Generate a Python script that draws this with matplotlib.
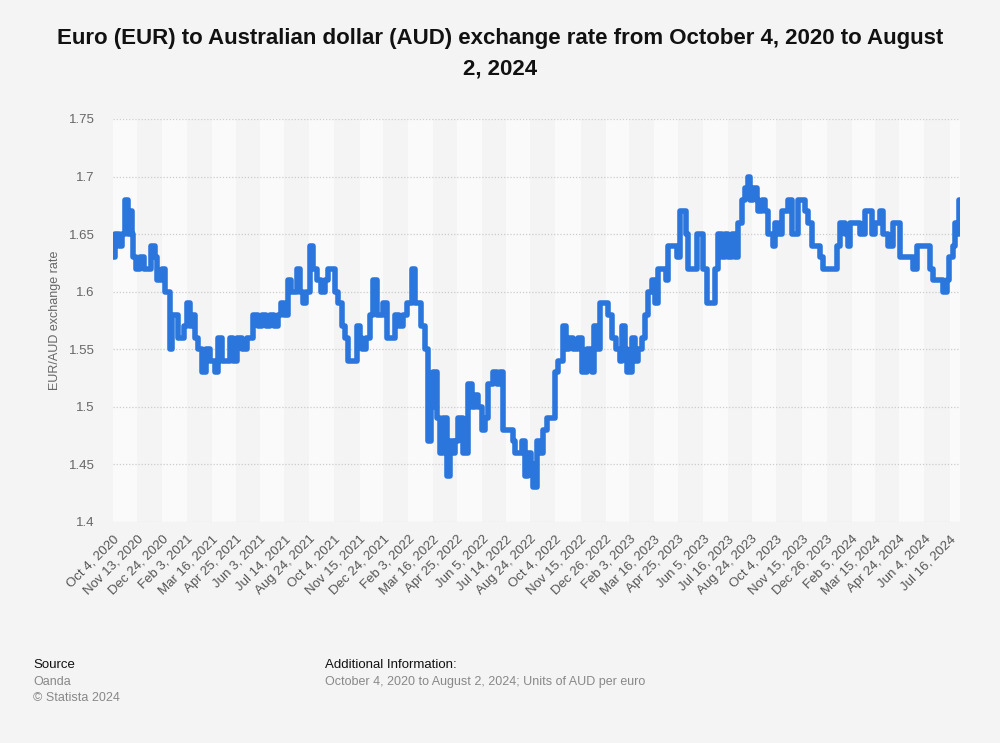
import pandas as pd
import matplotlib.pyplot as plt

# EUR/AUD exchange rate (days since Oct 4, 2020)
start = pd.Timestamp("2020-10-04")
end = pd.Timestamp("2024-08-02")

days = [0, 3, 10, 15, 20, 25, 28, 31, 33, 38, 45, 51, 58, 63, 69, 73, 78, 81, 86, 91,
        94, 97, 102, 107, 114, 117, 122, 127, 132, 135, 140, 147, 153, 160, 168, 173, 180, 187, 193, 198,
        205, 213, 221, 228, 231, 239, 246, 253, 259, 266, 272, 277, 282, 289, 294, 299, 304, 309, 314, 319,
        325, 330, 337, 343, 350, 355, 363, 366, 371, 378, 383, 388, 396, 403, 408, 411, 418, 424, 429, 436,
        442, 446, 452, 460, 465, 472, 479, 485, 490, 493, 498, 503, 508, 515, 520, 525, 528, 535, 540, 545,
        551, 556, 561, 564, 569, 574, 578, 586, 593, 597, 602, 609, 614, 619, 627, 634, 639, 644, 650, 655,
        660, 663, 672, 675, 680, 685, 690, 693, 700, 705, 710, 716, 725, 730, 734, 743, 748, 753, 759, 767,
        774, 782, 791, 794, 799, 804, 812, 817, 824, 830, 837, 840, 845, 848, 857, 862, 867, 873, 878, 883,
        890, 895, 900, 908, 913, 916, 923, 928, 931, 936, 941, 946, 949, 957, 964, 969, 974, 980, 989, 994,
        999, 1005, 1010, 1015, 1022, 1027, 1032, 1038, 1043, 1048, 1051, 1056, 1063, 1065, 1071, 1076, 1081, 1089, 1093, 1098,
        1104, 1109, 1114, 1121, 1126, 1131, 1137, 1142, 1147, 1154, 1162, 1167, 1172, 1188, 1195, 1200, 1208, 1213, 1216, 1228,
        1233, 1241, 1249, 1253, 1258, 1266, 1271, 1279, 1287, 1294, 1299, 1315, 1320, 1327, 1344, 1348, 1353, 1365, 1370, 1377,
        1380, 1386, 1390, 1393, 1396, 1398]

rate = [1.63, 1.65, 1.64, 1.65, 1.68, 1.65, 1.67, 1.65, 1.63, 1.62, 1.63, 1.62, 1.62, 1.64, 1.63, 1.61, 1.61, 1.62, 1.60, 1.60,
        1.55, 1.58, 1.58, 1.56, 1.56, 1.57, 1.59, 1.57, 1.58, 1.56, 1.55, 1.53, 1.55, 1.54, 1.53, 1.56, 1.54, 1.54, 1.56, 1.54,
        1.56, 1.55, 1.56, 1.56, 1.58, 1.57, 1.58, 1.57, 1.58, 1.57, 1.58, 1.59, 1.58, 1.61, 1.60, 1.60, 1.62, 1.60, 1.59, 1.60,
        1.64, 1.62, 1.61, 1.60, 1.61, 1.62, 1.62, 1.60, 1.59, 1.57, 1.56, 1.54, 1.54, 1.57, 1.56, 1.55, 1.56, 1.58, 1.61, 1.58,
        1.58, 1.59, 1.56, 1.56, 1.58, 1.57, 1.58, 1.59, 1.59, 1.62, 1.59, 1.59, 1.57, 1.55, 1.47, 1.50, 1.53, 1.49, 1.46, 1.49,
        1.44, 1.47, 1.46, 1.47, 1.49, 1.49, 1.46, 1.52, 1.50, 1.51, 1.50, 1.48, 1.49, 1.52, 1.53, 1.52, 1.53, 1.48, 1.48, 1.48,
        1.47, 1.46, 1.46, 1.47, 1.44, 1.46, 1.45, 1.43, 1.47, 1.46, 1.48, 1.49, 1.49, 1.53, 1.54, 1.57, 1.55, 1.56, 1.55, 1.56,
        1.53, 1.55, 1.53, 1.57, 1.55, 1.59, 1.59, 1.58, 1.56, 1.55, 1.54, 1.57, 1.55, 1.53, 1.56, 1.54, 1.55, 1.56, 1.58, 1.60,
        1.61, 1.59, 1.62, 1.62, 1.61, 1.64, 1.64, 1.64, 1.63, 1.67, 1.67, 1.65, 1.62, 1.62, 1.65, 1.65, 1.62, 1.59, 1.59, 1.62,
        1.65, 1.63, 1.65, 1.63, 1.65, 1.63, 1.66, 1.68, 1.69, 1.70, 1.68, 1.69, 1.68, 1.67, 1.68, 1.67, 1.65, 1.64, 1.66, 1.65,
        1.67, 1.67, 1.68, 1.65, 1.65, 1.68, 1.68, 1.67, 1.66, 1.64, 1.64, 1.63, 1.62, 1.62, 1.64, 1.66, 1.65, 1.64, 1.66, 1.66,
        1.65, 1.67, 1.67, 1.65, 1.66, 1.67, 1.65, 1.64, 1.66, 1.66, 1.63, 1.63, 1.62, 1.64, 1.64, 1.62, 1.61, 1.61, 1.60, 1.61,
        1.63, 1.64, 1.66, 1.65, 1.68, 1.68]

tick_labels = ["Oct 4, 2020", "Nov 13, 2020", "Dec 24, 2020", "Feb 3, 2021", "Mar 16, 2021", "Apr 25, 2021",
               "Jun 3, 2021", "Jul 14, 2021", "Aug 24, 2021", "Oct 4, 2021", "Nov 15, 2021", "Dec 24, 2021",
               "Feb 3, 2022", "Mar 16, 2022", "Apr 25, 2022", "Jun 5, 2022", "Jul 14, 2022", "Aug 24, 2022",
               "Oct 4, 2022", "Nov 15, 2022", "Dec 26, 2022", "Feb 3, 2023", "Mar 16, 2023", "Apr 25, 2023",
               "Jun 5, 2023", "Jul 16, 2023", "Aug 24, 2023", "Oct 4, 2023", "Nov 15, 2023", "Dec 26, 2023",
               "Feb 5, 2024", "Mar 15, 2024", "Apr 24, 2024", "Jun 4, 2024", "Jul 16, 2024"]

y_ticks = [1.4, 1.45, 1.5, 1.55, 1.6, 1.65, 1.7, 1.75]
y_tick_labels = ["1.4", "1.45", "1.5", "1.55", "1.6", "1.65", "1.7", "1.75"]

dates = start + pd.to_timedelta(days, unit="D")
tick_dates = pd.to_datetime(tick_labels, format="%b %d, %Y")

plt.rcParams["font.family"] = ["Liberation Sans", "DejaVu Sans"]

bg = "#f4f4f4"
fig = plt.figure(figsize=(10, 7.43), dpi=100, facecolor=bg)
ax = fig.add_axes([0.113, 0.2975, 0.847, 0.5424])
ax.set_facecolor(bg)

# alternating column bands between ticks
edges = list(tick_dates) + [end]
for i in range(len(edges) - 1):
    if i % 2 == 0:
        ax.axvspan(edges[i], edges[i + 1], color="#fafafa", lw=0, zorder=0)

ax.plot(dates, rate, drawstyle="steps-post", color="#2a76dd", lw=4,
        solid_joinstyle="round", solid_capstyle="round", zorder=3)

ax.set_xlim(start, end)
ax.set_ylim(1.4, 1.75)
ax.set_yticks(y_ticks)
ax.set_yticklabels(y_tick_labels)
ax.yaxis.grid(True, color="#cccccc", linestyle=(0, (1, 1.5)), lw=0.9, zorder=1)
ax.set_axisbelow(True)

ax.set_xticks(tick_dates)
ax.set_xticklabels(tick_labels, rotation=45, ha="right", rotation_mode="anchor")
ax.tick_params(axis="x", length=0, pad=8, labelsize=9.5, labelcolor="#555555")
ax.tick_params(axis="y", length=0, pad=13, labelsize=9.5, labelcolor="#666666")
for s in ax.spines.values():
    s.set_visible(False)

ax.set_ylabel("EUR/AUD exchange rate", fontsize=9, color="#666666", labelpad=6)

fig.text(0.5, 0.962, "Euro (EUR) to Australian dollar (AUD) exchange rate from October 4, 2020 to August\n2, 2024",
         ha="center", va="top", fontsize=16, fontweight="bold", color="#111111", linespacing=1.55)

fig.text(0.033, 0.105, "Source", fontsize=9.5, color="#111111", va="center")
fig.text(0.033, 0.082, "Oanda", fontsize=9, color="#888888", va="center")
fig.text(0.033, 0.061, "© Statista 2024", fontsize=9, color="#888888", va="center")
fig.text(0.325, 0.105, "Additional Information:", fontsize=9.5, color="#111111", va="center")
fig.text(0.325, 0.082, "October 4, 2020 to August 2, 2024; Units of AUD per euro", fontsize=9,
         color="#888888", va="center")

fig.savefig("out.png", dpi=100, facecolor=bg)
